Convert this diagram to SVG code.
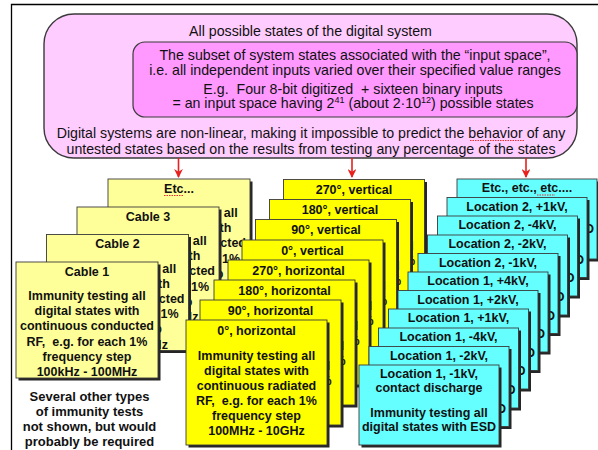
<svg xmlns="http://www.w3.org/2000/svg" width="598" height="450" viewBox="0 0 598 450">
<defs>
<style>
.t{font-family:"Liberation Sans",Arial,sans-serif;text-anchor:middle;fill:#111}
.top{font-size:14.2px}
.s{font-size:12.5px;font-weight:bold}
.e{text-anchor:end}
.sh{fill:#262626}
.bx{stroke:#3a3a3a;stroke-width:0.9}
.lt{fill:#FFFF99}
.ye{fill:#FFFF00}
.cy{fill:#66FFFF}
.arr{stroke:#E8201E;stroke-width:1.6;fill:none}
.sq{stroke:#E03030;stroke-width:1;stroke-dasharray:1.5 1;fill:none}
</style>
<marker id="ah" viewBox="0 0 10 10" refX="9" refY="5" markerWidth="5.5" markerHeight="5.5" orient="auto"><path d="M0,0 L10,5 L0,10 L3,5 z" fill="#E8201E"/></marker>
</defs>
<rect x="0" y="0" width="598" height="450" fill="#fff"/>
<path d="M11.5,450 V4.5 H598" fill="none" stroke="#000" stroke-width="1.3"/>

<g id="all-states">
<rect x="44" y="14" width="533" height="144" rx="30" fill="#FFCCFF" stroke="#3a3a3a" stroke-width="1.4"/>
<text class="t top" x="310.5" y="35.5">All possible states of the digital system</text>
<text class="t top" x="311" y="138">Digital systems are non-linear, making it impossible to predict the behavior of any</text>
<text class="t top" x="311" y="153.5">untested states based on the results from testing any percentage of the states</text>
<path class="sq" d="M470,140.5 H524"/>
</g>
<g id="input-space">
<rect x="133" y="42" width="444" height="75" rx="12" fill="#FF99FF" stroke="#3a3a3a" stroke-width="1.2"/>
<text class="t top" x="355" y="59.5">The subset of system states associated with the “input space”,</text>
<text class="t top" x="355" y="74.5">i.e. all independent inputs varied over their specified value ranges</text>
<text class="t top" x="353" y="93.5">E.g.&#160; Four 8-bit digitized&#160; + sixteen binary inputs</text>
<text class="t top" x="353" y="108">= an input space having 2<tspan dy="-5" font-size="9px">41</tspan><tspan dy="5"> (about 2·10</tspan><tspan dy="-5" font-size="9px">12</tspan><tspan dy="5">) possible states</tspan></text>
</g>

<g id="connectors">
<line class="arr" x1="178.5" y1="158" x2="178.5" y2="177" marker-end="url(#ah)"/>
<line class="arr" x1="352" y1="158" x2="352" y2="177" marker-end="url(#ah)"/>
<line class="arr" x1="526" y1="158" x2="526" y2="177" marker-end="url(#ah)"/>
</g>

<!-- Conducted RF stack -->
<g id="cable-etc">
<rect class="sh" x="110.5" y="181.5" width="142" height="116"/>
<rect class="bx lt" x="108" y="179" width="142" height="116"/>
<text class="t s" x="179" y="192.5">Etc...</text>
<path class="sq" d="M164,195.5 H183"/>
<text class="t s e" x="237.7" y="217">all</text>
<text class="t s e" x="231.4" y="232.2">th</text>
<text class="t s e" x="246" y="247.4">cted</text>
<text class="t s e" x="240.1" y="262.6">1%</text>
<text class="t s e" x="223.5" y="277.8">p</text>
</g>
<g id="cable-3">
<rect class="sh" x="79.5" y="209.5" width="142" height="116"/>
<rect class="bx lt" x="77" y="207" width="142" height="116"/>
<text class="t s" x="148" y="220.5">Cable 3</text>
<text class="t s e" x="206.7" y="245">all</text>
<text class="t s e" x="200.4" y="260.2">th</text>
<text class="t s e" x="215" y="275.4">cted</text>
<text class="t s e" x="209.1" y="290.6">1%</text>
<text class="t s e" x="192.5" y="305.8">p</text>
<text class="t s e" x="198.4" y="321">Hz</text>
</g>
<g id="cable-2">
<rect class="sh" x="49" y="237" width="142" height="116"/>
<rect class="bx lt" x="46.5" y="234.5" width="142" height="116"/>
<text class="t s" x="117.5" y="248">Cable 2</text>
<text class="t s e" x="176.2" y="272.5">all</text>
<text class="t s e" x="169.9" y="287.7">th</text>
<text class="t s e" x="184.5" y="302.9">cted</text>
<text class="t s e" x="178.6" y="318.1">1%</text>
<text class="t s e" x="162" y="333.3">p</text>
<text class="t s e" x="167.9" y="348.5">Hz</text>
</g>
<g id="cable-1">
<rect class="sh" x="18.5" y="264.5" width="142" height="116"/>
<rect class="bx lt" x="16" y="262" width="142" height="116"/>
<text class="t s" x="87" y="275.5">Cable 1</text>
<text class="t s" x="87" y="300">Immunity testing all</text>
<text class="t s" x="87" y="315.2">digital states with</text>
<text class="t s" x="87" y="330.4">continuous conducted</text>
<text class="t s" x="87" y="345.6">RF,&#160; e.g. for each 1%</text>
<text class="t s" x="87" y="360.8">frequency step</text>
<text class="t s" x="87" y="376">100kHz - 100MHz</text>
</g>
<g id="note">
<text class="t s" style="font-size:13px" x="89.5" y="401">Several other types</text>
<text class="t s" style="font-size:13px" x="89.5" y="416">of immunity tests</text>
<text class="t s" style="font-size:13px" x="89.5" y="431">not shown, but would</text>
<text class="t s" style="font-size:13px" x="89.5" y="446">probably be required</text>
</g>

<!-- Radiated RF stack -->
<g id="rad-270v">
<rect class="sh" x="286" y="182" width="141" height="125"/>
<rect class="bx ye" x="283.5" y="179.5" width="141" height="125"/>
<text class="t s" x="354" y="194">270°, vertical</text>
<text class="t s e" x="413.7" y="249.5">d</text>
<text class="t s e" x="415.1" y="264.5">%</text>
</g>
<g id="rad-180v">
<rect class="sh" x="272" y="202" width="141" height="125"/>
<rect class="bx ye" x="269.5" y="199.5" width="141" height="125"/>
<text class="t s" x="340" y="214">180°, vertical</text>
<text class="t s e" x="399.7" y="269.5">d</text>
<text class="t s e" x="401.1" y="284.5">%</text>
</g>
<g id="rad-90v">
<rect class="sh" x="258" y="222" width="141" height="125"/>
<rect class="bx ye" x="255.5" y="219.5" width="141" height="125"/>
<text class="t s" x="326" y="234">90°, vertical</text>
<text class="t s e" x="385.7" y="289.5">d</text>
<text class="t s e" x="387.1" y="304.5">%</text>
</g>
<g id="rad-0v">
<rect class="sh" x="244.5" y="242.5" width="141" height="125"/>
<rect class="bx ye" x="242" y="240" width="141" height="125"/>
<text class="t s" x="312.5" y="254.5">0°, vertical</text>
<text class="t s e" x="372.2" y="310">d</text>
<text class="t s e" x="373.6" y="325">%</text>
</g>
<g id="rad-270h">
<rect class="sh" x="230.5" y="262.5" width="141" height="125"/>
<rect class="bx ye" x="228" y="260" width="141" height="125"/>
<text class="t s" x="298.5" y="274.5">270°, horizontal</text>
<text class="t s e" x="358.2" y="330">d</text>
<text class="t s e" x="359.6" y="345">%</text>
</g>
<g id="rad-180h">
<rect class="sh" x="216.5" y="282.5" width="141" height="125"/>
<rect class="bx ye" x="214" y="280" width="141" height="125"/>
<text class="t s" x="284.5" y="294.5">180°, horizontal</text>
<text class="t s e" x="344.2" y="350">d</text>
<text class="t s e" x="345.6" y="365">%</text>
</g>
<g id="rad-90h">
<rect class="sh" x="202.5" y="302.5" width="141" height="125"/>
<rect class="bx ye" x="200" y="300" width="141" height="125"/>
<text class="t s" x="270.5" y="314.5">90°, horizontal</text>
<text class="t s e" x="330.2" y="370">d</text>
<text class="t s e" x="331.6" y="385">%</text>
</g>
<g id="rad-0h">
<rect class="sh" x="188.5" y="322.5" width="141" height="125"/>
<rect class="bx ye" x="186" y="320" width="141" height="125"/>
<text class="t s" x="256.5" y="334.5">0°, horizontal</text>
<text class="t s" x="256.5" y="360">Immunity testing all</text>
<text class="t s" x="256.5" y="375">digital states with</text>
<text class="t s" x="256.5" y="390">continuous radiated</text>
<text class="t s" x="256.5" y="405">RF,&#160; e.g. for each 1%</text>
<text class="t s" x="256.5" y="420">frequency step</text>
<text class="t s" x="256.5" y="435">100MHz - 10GHz</text>
</g>

<!-- ESD stack -->
<g id="esd-etc">
<rect class="sh" x="459.5" y="181.5" width="140" height="80"/>
<rect class="bx cy" x="457" y="179" width="140" height="80"/>
<text class="t s" x="527" y="192">Etc., etc., etc....</text>
<path class="sq" d="M537,195 H555"/>
<text class="t s e" x="594" y="233">D</text>
</g>
<g id="esd-l2p1">
<rect class="sh" x="449.5" y="200" width="140" height="80"/>
<rect class="bx cy" x="447" y="197.5" width="140" height="80"/>
<text class="t s" x="517" y="210.5">Location 2, +1kV,</text>
<text class="t s e" x="584" y="263.5">D</text>
</g>
<g id="esd-l2m4">
<rect class="sh" x="440" y="218.5" width="140" height="80"/>
<rect class="bx cy" x="437.5" y="216" width="140" height="80"/>
<text class="t s" x="507.5" y="229">Location 2, -4kV,</text>
<text class="t s e" x="574.5" y="282">D</text>
</g>
<g id="esd-l2m2">
<rect class="sh" x="430" y="237.5" width="140" height="80"/>
<rect class="bx cy" x="427.5" y="235" width="140" height="80"/>
<text class="t s" x="497.5" y="248">Location 2, -2kV,</text>
<text class="t s e" x="564.5" y="301">D</text>
</g>
<g id="esd-l2m1">
<rect class="sh" x="420.5" y="256" width="140" height="80"/>
<rect class="bx cy" x="418" y="253.5" width="140" height="80"/>
<text class="t s" x="488" y="266.5">Location 2, -1kV,</text>
<text class="t s e" x="555" y="319.5">D</text>
</g>
<g id="esd-l1p4">
<rect class="sh" x="410.5" y="274.5" width="140" height="80"/>
<rect class="bx cy" x="408" y="272" width="140" height="80"/>
<text class="t s" x="478" y="285">Location 1, +4kV,</text>
<text class="t s e" x="545" y="338">D</text>
</g>
<g id="esd-l1p2">
<rect class="sh" x="400.5" y="293" width="140" height="80"/>
<rect class="bx cy" x="398" y="290.5" width="140" height="80"/>
<text class="t s" x="468" y="303.5">Location 1, +2kV,</text>
<text class="t s e" x="535" y="356.5">D</text>
</g>
<g id="esd-l1p1">
<rect class="sh" x="391" y="311.5" width="140" height="80"/>
<rect class="bx cy" x="388.5" y="309" width="140" height="80"/>
<text class="t s" x="458.5" y="322">Location 1, +1kV,</text>
<text class="t s e" x="525.5" y="375">D</text>
</g>
<g id="esd-l1m4">
<rect class="sh" x="381" y="330.5" width="140" height="80"/>
<rect class="bx cy" x="378.5" y="328" width="140" height="80"/>
<text class="t s" x="448.5" y="341">Location 1, -4kV,</text>
<text class="t s e" x="515.5" y="394">D</text>
</g>
<g id="esd-l1m2">
<rect class="sh" x="371.5" y="349" width="140" height="80"/>
<rect class="bx cy" x="369" y="346.5" width="140" height="80"/>
<text class="t s" x="439" y="359.5">Location 1, -2kV,</text>
<text class="t s e" x="506" y="412.5">D</text>
</g>
<g id="esd-l1m1">
<rect class="sh" x="361.5" y="367.5" width="140" height="80"/>
<rect class="bx cy" x="359" y="365" width="140" height="80"/>
<text class="t s" x="429" y="378">Location 1, -1kV,</text>
<text class="t s" x="429" y="392">contact discharge</text>
<text class="t s" x="429" y="417">Immunity testing all</text>
<text class="t s" x="429" y="431">digital states with ESD</text>
</g>
</svg>
